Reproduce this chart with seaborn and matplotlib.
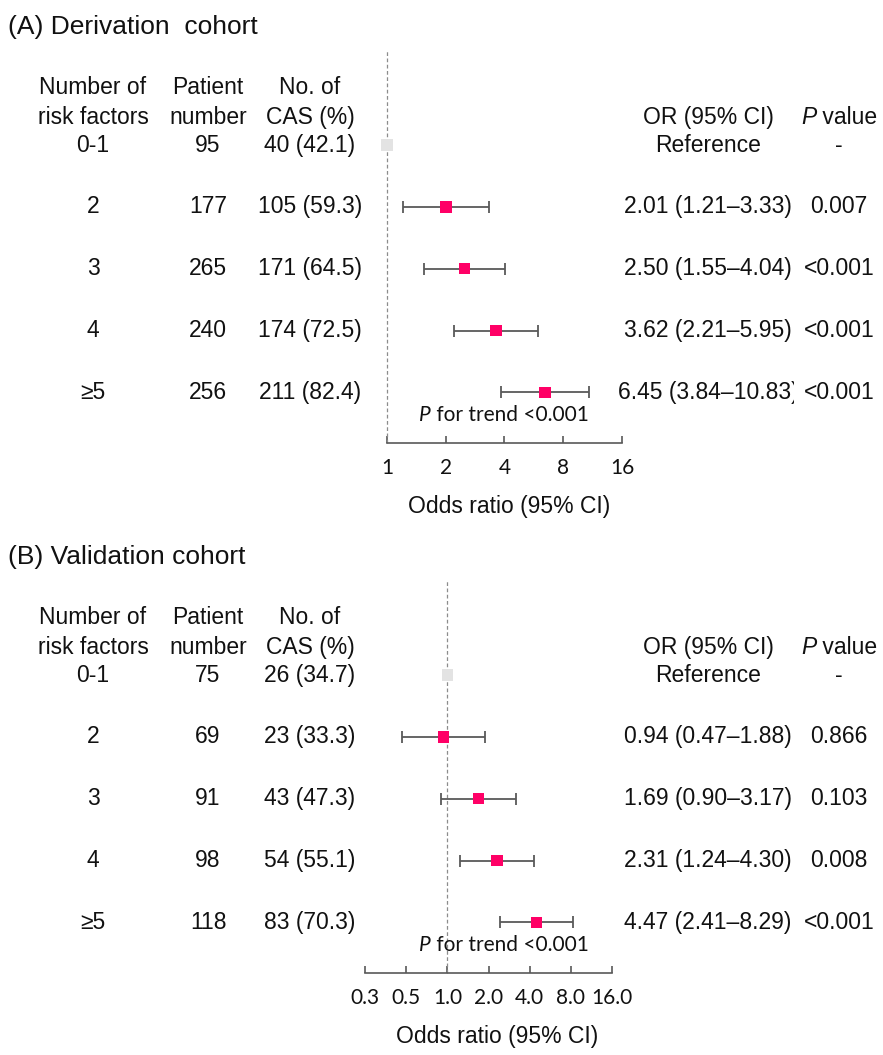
import numpy as np
import pandas as pd
import matplotlib
matplotlib.use("Agg")
import matplotlib.pyplot as plt
import seaborn as sns
from matplotlib.transforms import blended_transform_factory
from matplotlib.offsetbox import TextArea, HPacker, AnnotationBbox

# data
groups = ["0-1", "2", "3", "4", "≥5"]

patients_a = [95, 177, 265, 240, 256]
cas_n_a = [40, 105, 171, 174, 211]
cas_pct_a = [42.1, 59.3, 64.5, 72.5, 82.4]
or_a = [1.0, 2.01, 2.50, 3.62, 6.45]
lo_a = [1.0, 1.21, 1.55, 2.21, 3.84]
hi_a = [1.0, 3.33, 4.04, 5.95, 10.83]
p_a = ["-", "0.007", "<0.001", "<0.001", "<0.001"]

patients_b = [75, 69, 91, 98, 118]
cas_n_b = [26, 23, 43, 54, 83]
cas_pct_b = [34.7, 33.3, 47.3, 55.1, 70.3]
or_b = [1.0, 0.94, 1.69, 2.31, 4.47]
lo_b = [1.0, 0.47, 0.90, 1.24, 2.41]
hi_b = [1.0, 1.88, 3.17, 4.30, 8.29]
p_b = ["-", "0.866", "0.103", "0.008", "<0.001"]

ticks_a = [1, 2, 4, 8, 16]
ticklabels_a = ["1", "2", "4", "8", "16"]
ticks_b = [0.25, 0.5, 1, 2, 4, 8, 16]
ticklabels_b = ["0.3", "0.5", "1.0", "2.0", "4.0", "8.0", "16.0"]

trend_p = "<0.001"

sns.set_theme(style="white")
plt.rcParams['font.family'] = ['Liberation Sans', 'DejaVu Sans']

W, H = 883, 1055
fig = plt.figure(figsize=(W / 100, H / 100), dpi=100)

FS = 16.5
TXT = "#111111"
AXC = "#595959"
PINK = "#FF0066"
REFGRAY = "#E3E3E3"


def fx(px):
    return px / W


def fy(py):
    return 1 - py / H


def mixed(ax, x, y, parts, fs, fam):
    trans = blended_transform_factory(fig.transFigure, ax.transData)
    boxes = [TextArea(t, textprops=dict(fontsize=fs, family=fam, style=st, color=TXT))
             for t, st in parts]
    pack = HPacker(children=boxes, align="baseline", pad=0, sep=0)
    ab = AnnotationBbox(pack, (x, y), xycoords=trans, frameon=False,
                        box_alignment=(0.5, 0.5), pad=0, annotation_clip=False)
    ax.add_artist(ab)


def panel(top_px, left_px, right_px, title, patients, cas_n, cas_pct,
          ors, los, his, pvals, xlim, ticks, ticklabels, xlabel_x):
    # axes spans from dashed line top down to axis line
    axis_px = top_px + 393
    ax = fig.add_axes([fx(left_px), fy(axis_px), fx(right_px - left_px),
                       (axis_px - top_px) / H])
    df = pd.DataFrame({"group": groups, "row": np.arange(5), "OR": ors,
                       "lo": los, "hi": his})
    ax.set_xscale("log", base=2)
    ax.set_xlim(*xlim)
    ax.set_ylim(4.82, -1.54)

    ax.axvline(1, color="#8C8C8C", lw=0.9, ls=(0, (3, 2)), zorder=1, clip_on=False)

    ci = df.iloc[1:]
    ax.errorbar(ci["OR"], ci["row"],
                xerr=[ci["OR"] - ci["lo"], ci["hi"] - ci["OR"]],
                fmt="none", ecolor=AXC, elinewidth=1.3, capsize=4.2,
                capthick=1.3, zorder=2)
    df["kind"] = ["ref"] + ["est"] * 4
    sns.scatterplot(data=df, x="OR", y="row", hue="kind",
                    palette={"ref": REFGRAY, "est": PINK}, marker="s", s=68,
                    edgecolor="none", legend=False, ax=ax, zorder=3, clip_on=False)

    for s in ["top", "left", "right"]:
        ax.spines[s].set_visible(False)
    ax.spines["bottom"].set_color(AXC)
    ax.spines["bottom"].set_linewidth(1.2)
    ax.set_xticks(ticks)
    ax.set_xticklabels(ticklabels)
    ax.xaxis.set_minor_locator(matplotlib.ticker.NullLocator())
    ax.tick_params(axis="x", direction="in", length=5, width=1.2, color=AXC,
                   pad=11, labelsize=15, labelcolor=TXT, bottom=True)
    for lab in ax.get_xticklabels():
        lab.set_family(['Lato', 'DejaVu Sans'])
    ax.set_yticks([])
    ax.set_xlabel("")
    ax.set_ylabel("")
    ax.patch.set_alpha(0)

    trans = blended_transform_factory(fig.transFigure, ax.transData)
    cols = [fx(93), fx(208), fx(310)]
    h1 = ["Number of", "Patient", "No. of"]
    h2 = ["risk factors", "number", "CAS (%)"]
    for c, a, b in zip(cols, h1, h2):
        ax.text(c, -0.93, a, transform=trans, ha="center", va="center",
                fontsize=FS, color=TXT, clip_on=False)
        ax.text(c, -0.44, b, transform=trans, ha="center", va="center",
                fontsize=FS, color=TXT, clip_on=False)
    ax.text(fx(708), -0.44, "OR (95% CI)", transform=trans, ha="center",
            va="center", fontsize=FS, color=TXT, clip_on=False)
    mixed(ax, fx(839), -0.44, [("P", "italic"), (" value", "normal")], FS,
          ['Liberation Sans', 'DejaVu Sans'])

    for i in range(5):
        ax.text(cols[0], i, groups[i], transform=trans, ha="center", va="center",
                fontsize=FS, color=TXT, clip_on=False)
        ax.text(cols[1], i, str(patients[i]), transform=trans, ha="center",
                va="center", fontsize=FS, color=TXT, clip_on=False)
        ax.text(cols[2], i, f"{cas_n[i]} ({cas_pct[i]:.1f})", transform=trans,
                ha="center", va="center", fontsize=FS, color=TXT, clip_on=False)
        if i == 0:
            ort = "Reference"
        else:
            ort = f"{ors[i]:.2f} ({los[i]:.2f}\u2013{his[i]:.2f})"
        ax.text(fx(708), i, ort, transform=trans, ha="center", va="center",
                fontsize=FS, color=TXT, clip_on=False, zorder=4)
        # p value box sits on top of the OR text, like in the original layout
        ax.text(fx(839), i, pvals[i], transform=trans, ha="center", va="center",
                fontsize=FS, color=TXT, clip_on=False, zorder=5,
                bbox=dict(fc="white", ec="none", pad=7))

    mixed(ax, fx(504), 4.36, [("P", "italic"), (" for trend " + trend_p, "normal")],
          15, ['Lato', 'DejaVu Sans'])

    fig.text(fx(8), fy(top_px - 23), title, ha="left", va="center",
             fontsize=19, color=TXT)
    fig.text(fx(xlabel_x), fy(axis_px + 64), "Odds ratio (95% CI)", ha="center",
             va="center", fontsize=FS, color=TXT)
    return ax


panel(50, 387, 622, "(A) Derivation  cohort", patients_a, cas_n_a, cas_pct_a,
      or_a, lo_a, hi_a, p_a, (1, 16), ticks_a, ticklabels_a, 509)
panel(580, 365, 612, "(B) Validation cohort", patients_b, cas_n_b, cas_pct_b,
      or_b, lo_b, hi_b, p_b, (0.25, 16), ticks_b, ticklabels_b, 497)

fig.savefig("out.png", dpi=100, facecolor="white")
